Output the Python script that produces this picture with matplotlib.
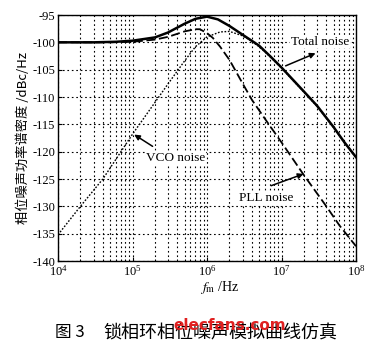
import matplotlib
matplotlib.use('Agg')
import matplotlib.pyplot as plt
import numpy as np

plt.rcParams['font.family'] = ['Liberation Serif', 'Noto Sans CJK SC', 'DejaVu Sans']
plt.rcParams['mathtext.fontset'] = 'stix'

# 读图得到的数据 (频率 Hz, 相位噪声 dBc/Hz)
f_total = [1e4, 3e4, 6e4, 1e5, 2e5, 3e5, 5e5, 7e5, 1e6, 1.4e6, 2e6, 3e6,
           5e6, 7e6, 1e7, 2e7, 3e7, 5e7, 7e7, 1e8]
total_noise = [-100, -100, -99.9, -99.7, -99.1, -98.2, -96.6, -95.7, -95.3, -95.8,
               -97.0, -98.6, -100.6, -102.5, -104.6, -109.0, -111.6, -115.5, -118.3, -121.0]

f_pll = [1e4, 5e4, 1e5, 2e5, 3e5, 5e5, 7e5, 8e5, 1e6, 1.2e6, 1.5e6, 2e6, 3e6,
         4e6, 6e6, 1e7, 2e7, 4e7, 6e7, 1e8]
pll_noise = [-100, -100, -99.9, -99.5, -99.0, -98.0, -97.6, -97.6, -98.3, -99.2,
             -100.8, -103.2, -107.5, -110.5, -114.0, -118.3, -124.3, -130.0, -133.5, -137.3]

f_vco = [1e4, 2e4, 4e4, 7e4, 1e5, 2e5, 3e5, 5e5, 7e5, 1e6, 1.5e6, 2e6, 3e6,
         4e6, 5e6, 7e6, 1e7, 2e7, 3e7, 5e7, 7e7, 1e8]
vco_noise = [-135.2, -130.0, -125.0, -120.0, -116.8, -111.0, -107.6, -103.4, -100.8,
             -99.0, -98.1, -98.0, -98.8, -99.8, -100.8, -102.6, -104.7, -109.1,
             -111.7, -115.6, -118.4, -121.1]

y_ticks = [-95, -100, -105, -110, -115, -120, -125, -130, -135, -140]

fig = plt.figure(figsize=(3.68, 3.51), dpi=100)
ax = fig.add_axes([58 / 368, 90 / 351, 298 / 368, 246 / 351])

ax.plot(f_total, total_noise, color='black', lw=1.8, ls='-')
ax.plot(f_pll, pll_noise, color='black', lw=1.3, ls=(0, (5, 2)))
ax.plot(f_vco, vco_noise, color='black', lw=1.0, ls=(0, (1.2, 1.2)))

ax.set_xscale('log')
ax.set_xlim(1e4, 1e8)
ax.set_ylim(-140, -95)
ax.set_yticks(y_ticks)
ax.set_yticklabels([str(v) for v in y_ticks])
ax.grid(True, which='major', color='black', ls=(0, (1.5, 2.5)), lw=0.8)
ax.grid(True, which='minor', axis='x', color='black', ls=(0, (1.5, 2.5)), lw=0.8)
ax.tick_params(which='both', direction='in', labelsize=9, pad=2)
ax.tick_params(which='major', length=3)
ax.tick_params(which='minor', length=1.5)
for s in ax.spines.values():
    s.set_linewidth(1.0)

ax.set_ylabel('相位噪声功率谱密度 /dBc/Hz',
              family=['Noto Sans CJK SC', 'DejaVu Sans'], fontsize=9.5, labelpad=2)
fig.text(220 / 368, 1 - 288 / 351, r'$f_\mathrm{m}$ /Hz', ha='center', va='center', fontsize=10)

arrow = dict(arrowstyle='-|>', color='black', lw=1.1, mutation_scale=8)
box = dict(facecolor='white', edgecolor='none', pad=0.5)
ax.text(3.3e7, -99.9, 'Total noise', ha='center', va='center', fontsize=9.5, bbox=box)
ax.annotate('', xy=(3.1e7, -101.8), xytext=(1.05e7, -104.5), arrowprops=arrow)
ax.text(3.8e5, -121.1, 'VCO noise', ha='center', va='center', fontsize=9.5, bbox=box)
ax.annotate('', xy=(9.8e4, -116.6), xytext=(2.0e5, -119.3), arrowprops=arrow)
ax.text(6.2e6, -128.5, 'PLL noise', ha='center', va='center', fontsize=9.5, bbox=box)
ax.annotate('', xy=(2.14e7, -123.9), xytext=(6.7e6, -126.4), arrowprops=arrow)

cjk = ['Noto Sans CJK SC', 'DejaVu Sans']
fig.text(55 / 368, 1 - 333 / 351, '图 3', family=cjk, fontsize=12, ha='left', va='center')
fig.text(103 / 368, 1 - 333 / 351, '锁相环相位噪声模拟曲线仿真', family=cjk,
         fontsize=13, ha='left', va='center')
fig.text(230 / 368, 1 - 326 / 351, 'elecfans.com', family=['DejaVu Sans'], fontsize=11,
         fontweight='bold', color='#e02020', ha='center', va='center')

fig.savefig('out.png', dpi=100)
